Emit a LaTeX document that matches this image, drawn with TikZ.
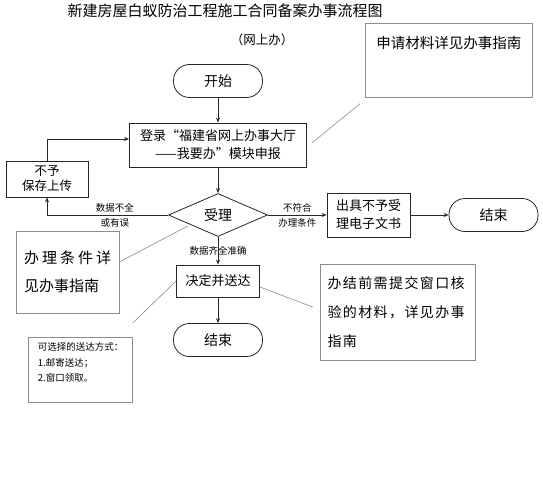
\documentclass[tikz,border=0pt]{standalone}
\usepackage{fontspec}
\setmainfont{Noto Sans CJK SC}
\usetikzlibrary{shapes.geometric,arrows.meta}
\newcommand{\fsz}[2]{\fontsize{#1pt}{#2pt}\selectfont}

\begin{document}
\begin{tikzpicture}[x=1pt, y=-1pt, >={Stealth[length=5pt,width=4pt]},
  every node/.style={inner sep=0pt},
  line/.style={draw=black!85, line width=0.8pt},
  box/.style={line, rectangle, align=center, font=\fsz{13}{18}},
  term/.style={line, rectangle, rounded corners=16pt, minimum width=89pt, minimum height=33pt, font=\fsz{14}{18}},
  choice/.style={line, diamond, aspect=2.3, minimum width=99pt, minimum height=43pt, font=\fsz{14}{18}},
  note/.style={draw=black!45, line width=0.7pt, rectangle},
  callout/.style={draw=black!45, line width=0.6pt},
  lbl/.style={font=\fsz{9.5}{15}, align=center}]
  \useasboundingbox (0,0) rectangle (543,500);

  \node[font=\fsz{15}{18}] (title) at (225,11) {新建房屋白蚁防治工程施工合同备案办事流程图};
  \node[font=\fsz{12.5}{16}] (online) at (262,40) {（网上办）};

  \node[term] (start) at (218,81) {开始};
  \node[box, minimum width=177pt, minimum height=44pt] (login) at (218,145) {登录“福建省网上办事大厅\\——我要办”模块申报};
  \node[box, minimum width=82pt, minimum height=36pt, font=\fsz{12.5}{15}] (nosave) at (47,179) {不予\\保存上传};
  \node[choice] (accept) at (218,215) {受理};
  \node[box, minimum width=83pt, minimum height=44pt] (reject) at (368.5,215) {出具不予受\\理电子文书};
  \node[term] (end1) at (493.5,215) {结束};
  \node[box, minimum width=83pt, minimum height=32pt] (deliver) at (218,281) {决定并送达};
  \node[term] (end2) at (218,340) {结束};

  \draw[line, ->] (start) -- (login);
  \draw[line, ->] (login) -- (accept);
  \draw[line, ->] (accept) -- node[lbl] {数据齐全准确} (deliver);
  \draw[line, ->] (deliver) -- (end2);
  \draw[line, ->] (accept) -- node[lbl] {不符合\\办理条件} (reject);
  \draw[line, ->] (reject) -- (end1);
  \draw[line, ->] (accept.west) -| node[lbl, pos=0.22] {数据不全\\或有误} (nosave.south);
  \draw[line, ->] (nosave.north) |- ([yshift=6pt]login.west);

  % notes
  \node[note, anchor=north west, minimum width=167pt, font=\fsz{14.5}{18}, text height=25pt, text depth=49pt] (need) at (365,23) {申请材料详见办事指南};
  \node[note, minimum width=103pt, minimum height=82pt, text width=87pt, align=left, font=\fsz{15}{28}] (cond) at (67.5,272) {办\hfill 理\hfill 条\hfill 件\hfill 详\\见办事指南};
  \node[note, anchor=north west, minimum width=104pt, text width=85pt, align=left, font=\fsz{9.5}{15.5}, text height=13.5pt, text depth=51.5pt] (way) at (28,337) {可选择的送达方式：\\1.邮寄送达；\\2.窗口领取。};
  \node[note, minimum width=155pt, minimum height=96pt, text width=140pt, align=left, font=\fsz{14}{29}\addfontfeature{LetterSpace=10}] (submit) at (397.5,312) {办结前需提交窗口核\\验的材料，详见办事\\指南};

  \draw[callout] ([xshift=5pt,yshift=2pt]login.east) -- ([xshift=-5pt,yshift=-6pt]need.south west);
  \draw[callout] ([xshift=-5pt]accept.south west) -- ([yshift=10pt]cond.east);
  \draw[callout] (deliver.west) -- ([yshift=14pt]way.north east);
  \draw[callout] ([yshift=-6pt]deliver.east) -- ([xshift=-7pt,yshift=5pt]submit.west);
\end{tikzpicture}
\end{document}
